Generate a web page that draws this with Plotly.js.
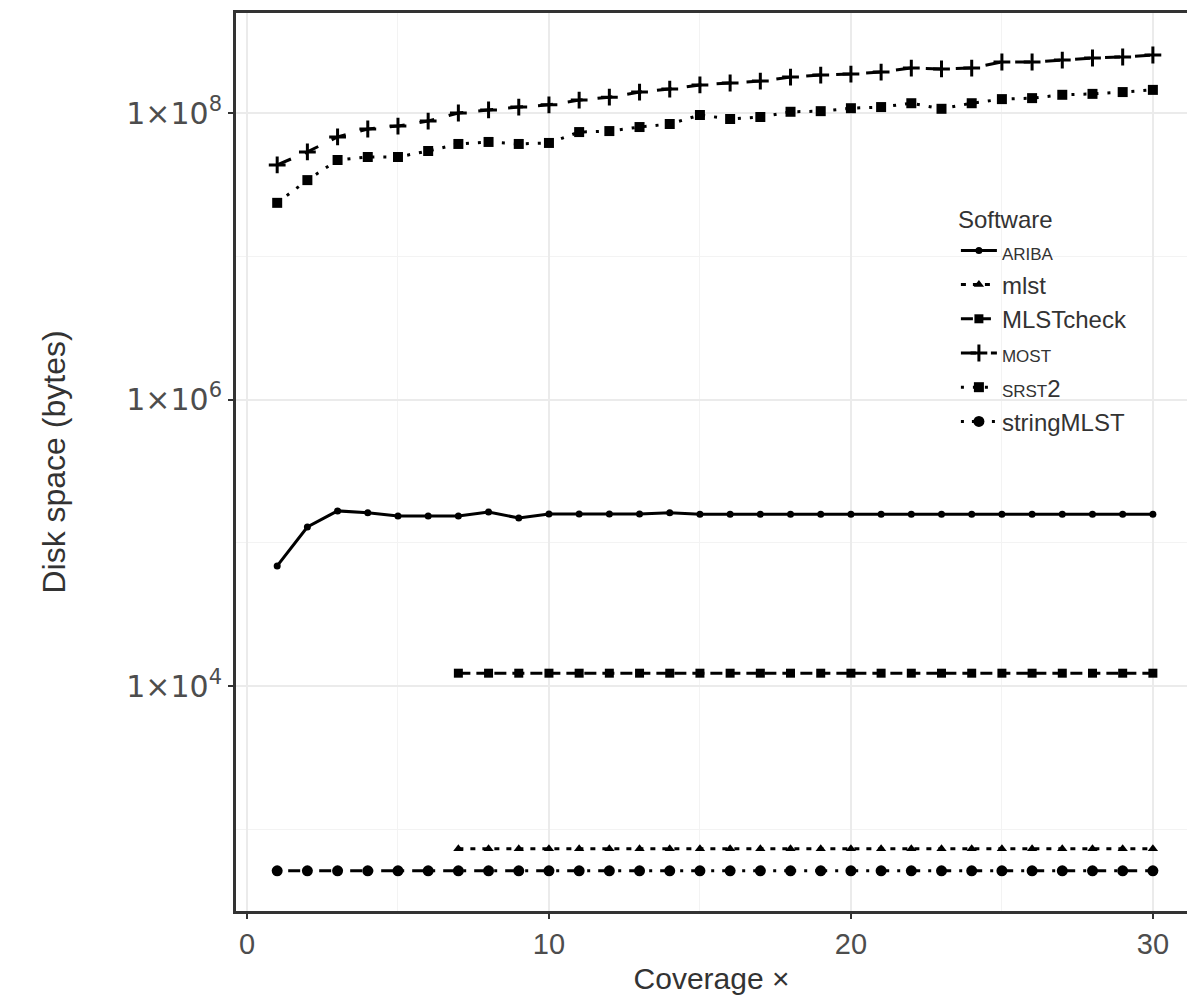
<!DOCTYPE html>
<html>
<head>
<meta charset="utf-8">
<script src="https://cdn.plot.ly/plotly-3.0.1.min.js"></script>
<style>
html,body{margin:0;padding:0;background:#fff;overflow:hidden;}
#chart{width:1187px;height:998px;}
</style>
</head>
<body>
<div id="chart"></div>
<script>
// Coverage values
var coverageAll = [1,2,3,4,5,6,7,8,9,10,11,12,13,14,15,16,17,18,19,20,21,22,23,24,25,26,27,28,29,30];
var coverageFrom7 = [7,8,9,10,11,12,13,14,15,16,17,18,19,20,21,22,23,24,25,26,27,28,29,30];

// Disk space (bytes)
var aribaBytes = [6.9e4,1.29e5,1.67e5,1.62e5,1.54e5,1.54e5,1.54e5,1.64e5,1.49e5,1.59e5,
                  1.59e5,1.59e5,1.59e5,1.62e5,1.58e5,1.58e5,1.58e5,1.58e5,1.58e5,1.58e5,
                  1.58e5,1.58e5,1.58e5,1.58e5,1.58e5,1.58e5,1.58e5,1.58e5,1.58e5,1.58e5];
var mlstBytes = [731,731,731,731,731,731,731,731,731,731,731,731,
                 731,731,731,731,731,731,731,731,731,731,731,731];
var mlstcheckBytes = [1.23e4,1.23e4,1.23e4,1.23e4,1.23e4,1.23e4,1.23e4,1.23e4,1.23e4,1.23e4,1.23e4,1.23e4,
                      1.23e4,1.23e4,1.23e4,1.23e4,1.23e4,1.23e4,1.23e4,1.23e4,1.23e4,1.23e4,1.23e4,1.23e4];
var mostBytes = [4.34e7,5.35e7,6.81e7,7.73e7,8.11e7,8.79e7,1.00e8,1.05e8,1.10e8,1.14e8,
                 1.23e8,1.29e8,1.40e8,1.47e8,1.57e8,1.62e8,1.67e8,1.78e8,1.84e8,1.87e8,
                 1.93e8,2.06e8,2.03e8,2.06e8,2.27e8,2.27e8,2.34e8,2.42e8,2.46e8,2.54e8];
var srst2Bytes = [2.36e7,3.40e7,4.70e7,4.93e7,4.93e7,5.43e7,6.08e7,6.28e7,6.08e7,6.18e7,
                  7.36e7,7.48e7,7.98e7,8.38e7,9.68e7,9.08e7,9.38e7,1.02e8,1.03e8,1.08e8,
                  1.10e8,1.17e8,1.07e8,1.17e8,1.25e8,1.27e8,1.34e8,1.36e8,1.40e8,1.45e8];
var stringmlstBytes = [513,513,513,513,513,513,513,513,513,513,513,513,513,513,513,
                       513,513,513,513,513,513,513,513,513,513,513,513,513,513,513];

// Labels
var softwareNames = ['<span style="font-size:17px">ARIBA</span>', 'mlst', 'MLSTcheck',
                     '<span style="font-size:17px">MOST</span>',
                     '<span style="font-size:17px">SRST</span>2', 'stringMLST'];
var yTickVals = [1e4, 1e6, 1e8];
var yTickText = ['1×10<sup>4</sup>', '1×10<sup>6</sup>', '1×10<sup>8</sup>'];
var yMinorVals = [1e3, 1e5, 1e7];
var xTickVals = [0, 10, 20, 30];
var xMinorVals = [5, 15, 25];

var FONT = '"Liberation Sans", Arial, sans-serif';
var WIDEFONT = '"DejaVu Sans", "Liberation Sans", sans-serif';
var LW = 3;

function tr(x, y, name, dash, symbol, size) {
  return {
    type: 'scatter', mode: 'lines+markers', x: x, y: y, name: name,
    line: {color: '#000', width: LW, dash: dash},
    marker: {color: '#000', symbol: symbol, size: size,
             line: {color: '#000', width: symbol === 'cross-thin' ? 3 : 0}},
    hoverinfo: 'skip'
  };
}

var data = [
  tr(coverageAll, aribaBytes, softwareNames[0], 'solid', 'circle', 7),
  tr(coverageFrom7, mlstBytes, softwareNames[1], '5px,7px', 'triangle-up', 9),
  tr(coverageFrom7, mlstcheckBytes, softwareNames[2], '12px,6px', 'square', 9),
  tr(coverageAll, mostBytes, softwareNames[3], '15px,15px', 'cross-thin', 12),
  tr(coverageAll, srst2Bytes, softwareNames[4], '3px,9px', 'square', 10),
  tr(coverageAll, stringmlstBytes, softwareNames[5], '3px,8px,12px,8px', 'circle', 11)
];

var layout = {
  width: 1187, height: 998,
  margin: {l: 236, r: 0, t: 13, b: 87},
  paper_bgcolor: '#fff', plot_bgcolor: '#fff',
  font: {family: FONT, color: '#4d4d4d'},
  showlegend: true,
  xaxis: {
    range: [-0.364, 31.13],
    tickmode: 'array', tickvals: xTickVals,
    ticks: 'outside', ticklen: 5, tickwidth: 2, tickcolor: '#333',
    showline: true, linewidth: 3, linecolor: '#333', mirror: true,
    showgrid: true, gridcolor: '#ebebeb', gridwidth: 2,
    minor: {tickvals: xMinorVals, showgrid: true, gridcolor: '#f3f3f3', gridwidth: 1, ticks: ''},
    zeroline: false,
    tickfont: {family: FONT, size: 29, color: '#4d4d4d'},
    title: {text: 'Coverage ×', font: {family: FONT, size: 30, color: '#333'}, standoff: 10}
  },
  yaxis: {
    type: 'log',
    range: [2.43, 8.698],
    tickmode: 'array', tickvals: yTickVals, ticktext: yTickText,
    ticks: 'outside', ticklen: 5, tickwidth: 2, tickcolor: '#333',
    showline: true, linewidth: 3, linecolor: '#333', mirror: false,
    showgrid: true, gridcolor: '#ebebeb', gridwidth: 2,
    minor: {tickvals: yMinorVals, showgrid: true, gridcolor: '#f3f3f3', gridwidth: 1, ticks: ''},
    zeroline: false,
    tickfont: {family: WIDEFONT, size: 30, color: '#4d4d4d'},
    title: {text: 'Disk space (bytes)', font: {family: FONT, size: 32, color: '#333'}, standoff: 52}
  },
  legend: {
    x: 0.757, y: 0.795, xanchor: 'left', yanchor: 'top',
    bgcolor: 'rgba(0,0,0,0)',
    font: {family: FONT, size: 24, color: '#333'},
    title: {text: 'Software', font: {family: FONT, size: 24, color: '#333'}},
    itemwidth: 36, tracegroupgap: 0
  }
};

Plotly.newPlot('chart', data, layout, {displayModeBar: false, staticPlot: true});
</script>
</body>
</html>
